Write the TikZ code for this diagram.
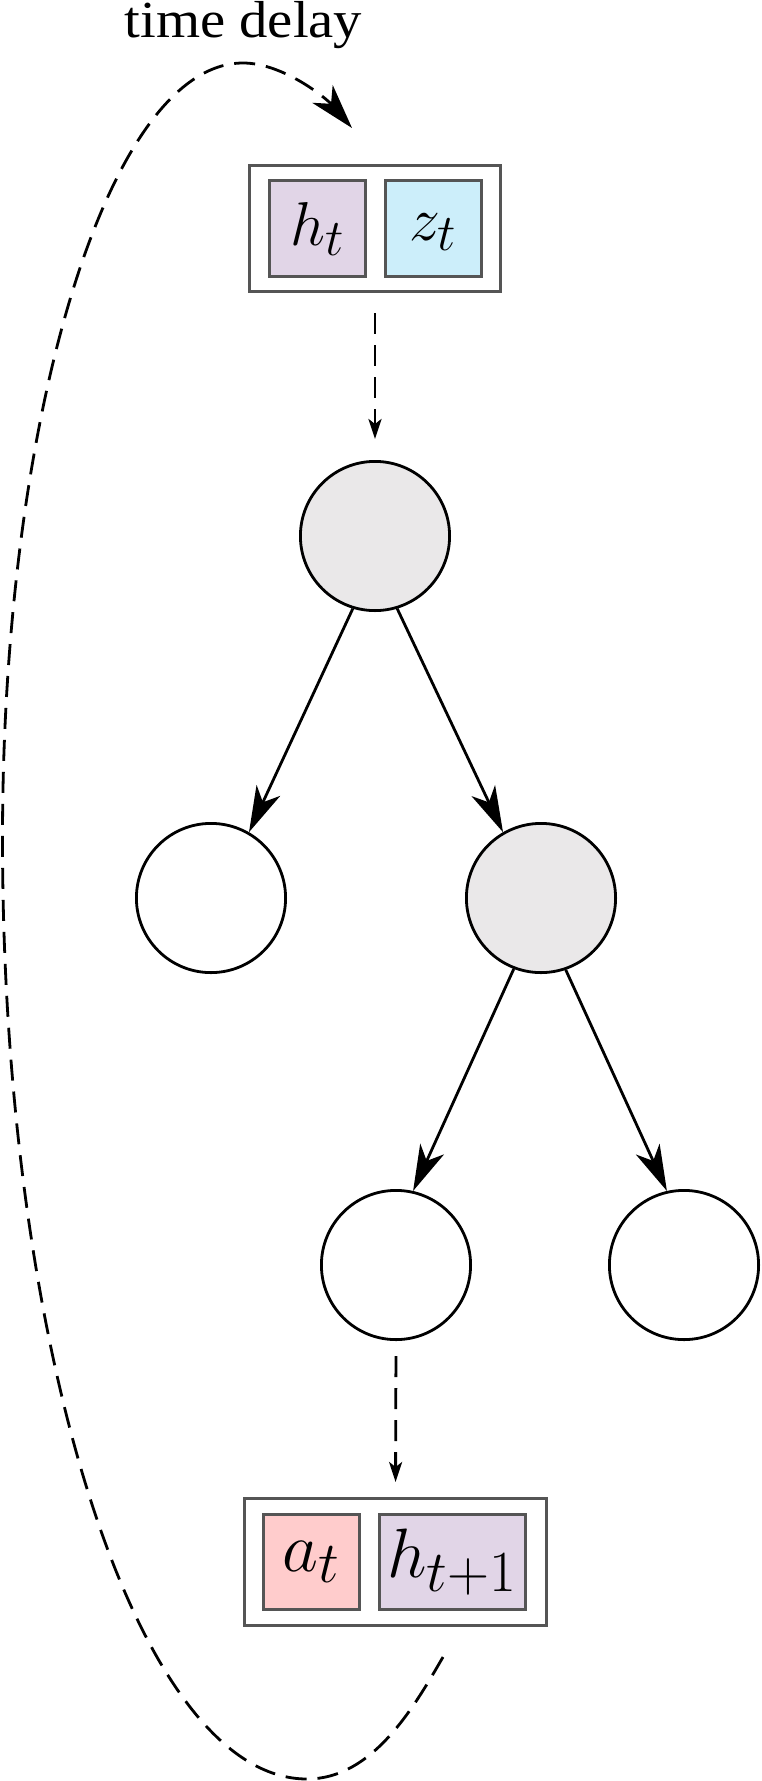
\documentclass[tikz,border=0pt]{standalone}
\usepackage{fontspec}
\setmainfont{Liberation Serif}
\usetikzlibrary{arrows.meta}
\definecolor{hpurple}{HTML}{E1D5E7}
\definecolor{zcyan}{HTML}{CCEEFA}
\definecolor{apink}{HTML}{FFCCCC}
\definecolor{cgray}{HTML}{EAE8E9}
\definecolor{bgray}{HTML}{555555}
\begin{document}
\begin{tikzpicture}[x=1pt,y=-1pt,
  treenode/.style={circle,draw=black,line width=2.8pt,minimum size=149.2pt,inner sep=0pt},
  outerbox/.style={rectangle,draw=bgray,line width=2.7pt,fill=white,inner sep=0pt},
  cellbox/.style={rectangle,draw=bgray,line width=2.7pt,inner sep=0pt,minimum height=95.8pt},
  treearrow/.style={line width=2.8pt,-{Stealth[length=46pt,width=26pt,inset=13pt]}},
  feedarrow/.style={line width=2.8pt,dash pattern=on 21pt off 11pt,-{Stealth[length=20pt,width=13pt,inset=5pt]}},
  looparrow/.style={line width=2.8pt,dash pattern=on 21pt off 11pt,-{Stealth[length=45pt,width=27pt,inset=13pt]}}
]
\useasboundingbox (0,0) rectangle (761,1781);

% top box
\node[outerbox,minimum width=251.3pt,minimum height=126.3pt] (topbox) at (375,228.5) {};
\node[cellbox,fill=hpurple,minimum width=96.3pt] (ht) at (317.5,228.7) {\scalebox{2.49}{\Huge$h_t$}};
\node[cellbox,fill=zcyan,minimum width=96.3pt] (zt) at (433.5,228.7) {\scalebox{2.49}{\Huge\rule{0pt}{13.5pt}$z_t$}};

% tree
\node[treenode,fill=cgray] (c0) at (375,536) {};
\node[treenode,fill=white] (c1) at (211,898) {};
\node[treenode,fill=cgray] (c2) at (541,898) {};
\node[treenode,fill=white] (c3) at (396,1265) {};
\node[treenode,fill=white] (c4) at (684,1265) {};

% bottom box
\node[outerbox,minimum width=302.3pt,minimum height=127.3pt] (botbox) at (395.5,1562) {};
\node[cellbox,fill=apink,minimum width=96.3pt,minimum height=95.3pt] (at) at (311.5,1562) {\scalebox{2.81}{\Huge$a_t$}};
\node[cellbox,fill=hpurple,minimum width=146.3pt,minimum height=95.3pt] (ht1) at (452.5,1562) {\scalebox{2.81}{\Huge$h_{t+1}$}};

% label
\node[anchor=base,inner sep=0pt,font=\fontsize{52}{58}\selectfont] (lbl) at (243.4,37.5) {\scalebox{1.09}[1]{time delay}};

% connectors
\draw[feedarrow,shorten <=20pt,shorten >=21pt] (topbox.south) -- (c0.north);
\draw[treearrow] (c0.-107) -- (c1.60);
\draw[treearrow] (c0.-73) -- (c2.120);
\draw[treearrow] (c2.-111) -- (c3.77);
\draw[treearrow] (c2.-71) -- (c4.103);
\draw[feedarrow,shorten <=15pt,shorten >=15pt] (c3.south) -- (botbox.north);

% time delay loop
\coordinate (loopstart) at (443,1657);
\coordinate (loopend) at (352,128);
\draw[looparrow] (loopstart) .. controls (413,1709) and (372,1779) .. (307,1779)
  .. controls (139,1779) and (2.5,1358) .. (2.5,839)
  .. controls (2.5,410) and (110,63) .. (243,63)
  .. controls (283,63) and (326,98) .. (loopend);
\end{tikzpicture}
\end{document}
